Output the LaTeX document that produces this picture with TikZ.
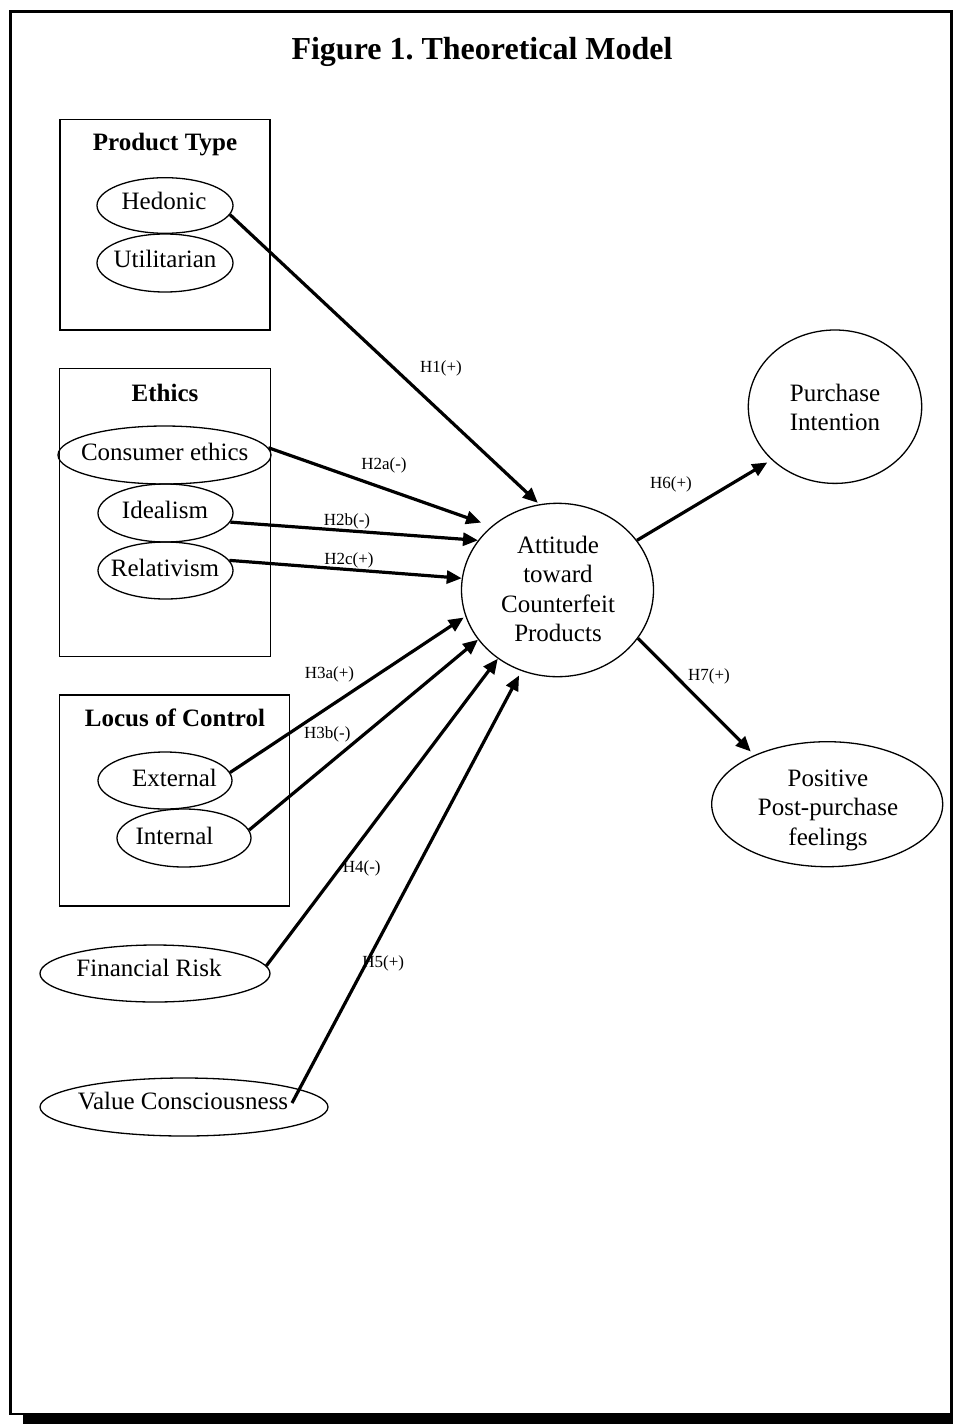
\documentclass[tikz,border=0pt]{standalone}
\usepackage{fontspec}
\setmainfont{Liberation Serif}
\usetikzlibrary{shapes.geometric,arrows.meta}
\frenchspacing
\begin{document}
\begin{tikzpicture}[x=1pt,y=-1pt,
  ell/.style={draw, ellipse, line width=1.3pt, inner sep=0pt},
  grp/.style={draw, rectangle, line width=1.3pt, inner sep=0pt},
  txt/.style={font=\fontsize{25}{29.5}\selectfont, align=center, inner sep=0pt},
  hd/.style={font=\fontsize{25}{30}\selectfont\bfseries, inner sep=0pt, anchor=base},
  lab/.style={font=\fontsize{17}{20}\selectfont, inner sep=0pt},
  arr/.style={line width=3.2pt, -{Triangle[length=15pt,width=13pt]}}
]
\useasboundingbox (0,0) rectangle (953,1424);
% page frame with shadow
\draw[line width=2.5pt] (10.5,11.7) rectangle (951.5,1413.8);
\fill (23,1414.5) rectangle (953,1424);

\node[font=\fontsize{32}{36}\selectfont\bfseries, anchor=base, inner sep=0pt] (title) at (482,59) {Figure 1. Theoretical Model};

% group boxes
\node[grp, minimum width=210, minimum height=210.7] (ptbox) at (165,224.65) {};
\node[grp, minimum width=211.4, minimum height=288.4] (ethbox) at (165,512.5) {};
\node[grp, minimum width=230, minimum height=211] (locbox) at (174.3,800.5) {};

\node[hd] (pthd) at (165,150.7) {Product Type};
\node[hd] (ethhd) at (165,401.7) {Ethics};
\node[hd] (lochd) at (175,726.7) {Locus of Control};

% ellipses
\node[ell, minimum width=136, minimum height=55.6] (hed) at (165,205.5) {};
\node[ell, minimum width=136, minimum height=58] (uti) at (165,263) {};
\node[ell, minimum width=213, minimum height=58] (cons) at (164.5,455) {};
\node[ell, minimum width=135, minimum height=58] (ide) at (165.5,513) {};
\node[ell, minimum width=135, minimum height=57] (rel) at (165.5,570.5) {};
\node[ell, minimum width=134, minimum height=57] (ext) at (165,780.5) {};
\node[ell, minimum width=134, minimum height=58] (int) at (184,838) {};
\node[ell, minimum width=230, minimum height=57] (fin) at (155,973.5) {};
\node[ell, minimum width=288, minimum height=58] (val) at (184,1107) {};
\node[ell, minimum width=192, minimum height=173.4] (att) at (557.5,590) {};
\node[ell, minimum width=173.4, minimum height=153.4] (pur) at (835,406.7) {};
\node[ell, minimum width=231, minimum height=125] (pos) at (827.2,804.2) {};

% texts
\node[txt] (thed) at (164,201) {Hedonic};
\node[txt] (tuti) at (165,258.5) {Utilitarian};
\node[txt] (tcons) at (164.7,451.7) {Consumer ethics};
\node[txt] (tide) at (165,510) {Idealism};
\node[txt] (trel) at (165,568) {Relativism};
\node[txt] (text) at (174.5,777.5) {External};
\node[txt] (tint) at (174.5,836) {Internal};
\node[txt] (tfin) at (149,967.5) {Financial Risk};
\node[txt] (tval) at (183,1101) {Value Consciousness};
\node[txt] (tatt) at (558,589) {Attitude\\toward\\Counterfeit\\Products};
\node[txt] (tpur) at (835,407.5) {Purchase\\Intention};
\node[txt] (tpos) at (828,810) {Positive\\Post-purchase\\feelings};

% connectors
\draw[arr, shorten >=2pt] (hed.-8) -- (att.102);
\draw[arr, shorten >=11pt] (cons.4.5) -- (att.136);
\draw[arr] (ide.-8) -- (att.148.6);
\draw[arr] (rel.9) -- (att.173.4);
\draw[arr, shorten >=2pt] (ext.7.5) -- (att.196);
\draw[arr] (int.7.7) -- (att.212);
\draw[arr] (fin.4) -- (att.229.7);
\draw[arr, shorten >=5pt] ([shift={(108,-4)}]val.center) -- (att.246.4);
\draw[arr, shorten >=5pt] (att.32.5) -- (pur.220.7);
\draw[arr, shorten >=5pt] (att.-31.3) -- (pos.146.5);

% hypothesis labels
\node[lab] (h1) at (441,368) {H1(+)};
\node[lab] (h2a) at (384,465) {H2a(-)};
\node[lab] (h2b) at (347,521.7) {H2b(-)};
\node[lab] (h2c) at (349,560) {H2c(+)};
\node[lab] (h3a) at (329.5,674) {H3a(+)};
\node[lab] (h3b) at (327.3,734) {H3b(-)};
\node[lab] (h4) at (361.7,868) {H4(-)};
\node[lab] (h5) at (383.3,963) {H5(+)};
\node[lab] (h6) at (671,484) {H6(+)};
\node[lab] (h7) at (709,676) {H7(+)};
\end{tikzpicture}
\end{document}
